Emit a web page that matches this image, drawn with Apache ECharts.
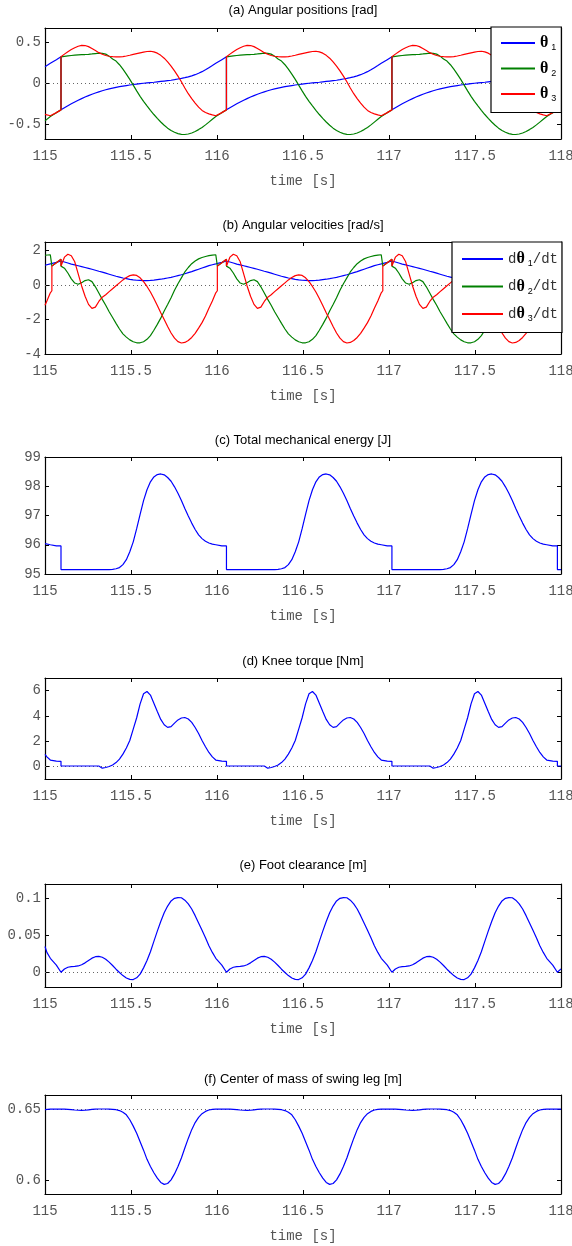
<!DOCTYPE html>
<html><head><meta charset="utf-8">
<script src="https://cdn.jsdelivr.net/npm/echarts@6/dist/echarts.min.js"></script>
<style>html,body{margin:0;padding:0;background:#fff}#c{width:572px;height:1246px}</style>
</head><body><div id="c"></div>
<script>
// ---------------- DATA ----------------
const time = [115.000,115.011,115.031,115.040,115.040,115.066,115.093,
115.093,115.113,115.133,115.153,115.173,115.193,115.213,115.233,115.253,115.273,115.293,115.313,115.333,115.353,115.373,115.393,115.413,115.433,115.453,115.473,115.493,115.513,115.533,115.553,115.573,115.593,115.613,115.633,115.653,115.673,115.693,115.713,115.733,115.753,115.773,115.793,115.813,115.833,115.853,115.873,115.893,115.913,115.933,115.953,115.973,115.993,116.002,116.002,116.028,116.055,
116.055,116.075,116.095,116.115,116.135,116.155,116.175,116.195,116.215,116.235,116.255,116.275,116.295,116.315,116.335,116.355,116.375,116.395,116.415,116.435,116.455,116.475,116.495,116.515,116.535,116.555,116.575,116.595,116.615,116.635,116.655,116.675,116.695,116.715,116.735,116.755,116.775,116.795,116.815,116.835,116.855,116.875,116.895,116.915,116.935,116.955,116.964,116.964,116.990,117.017,
117.017,117.037,117.057,117.077,117.097,117.117,117.137,117.157,117.177,117.197,117.217,117.237,117.257,117.277,117.297,117.317,117.337,117.357,117.377,117.397,117.417,117.437,117.457,117.477,117.497,117.517,117.537,117.557,117.577,117.597,117.617,117.637,117.657,117.677,117.697,117.717,117.737,117.757,117.777,117.797,117.817,117.837,117.857,117.877,117.897,117.917,117.926,117.926,117.952,117.979,
117.979,118.000];

const theta1 = [0.206,0.220,0.247,0.258,0.258,0.292,0.327,
-0.323,-0.297,-0.272,-0.248,-0.226,-0.205,-0.185,-0.166,-0.148,-0.131,-0.116,-0.102,-0.089,-0.077,-0.066,-0.056,-0.047,-0.039,-0.032,-0.025,-0.018,-0.012,-0.007,-0.002,0.003,0.007,0.011,0.015,0.020,0.025,0.030,0.035,0.040,0.047,0.055,0.063,0.072,0.082,0.094,0.108,0.125,0.145,0.168,0.194,0.220,0.247,0.258,0.258,0.292,0.327,
-0.323,-0.297,-0.272,-0.248,-0.226,-0.205,-0.185,-0.166,-0.148,-0.131,-0.116,-0.102,-0.089,-0.077,-0.066,-0.056,-0.047,-0.039,-0.032,-0.025,-0.018,-0.012,-0.007,-0.002,0.003,0.007,0.011,0.015,0.020,0.025,0.030,0.035,0.040,0.047,0.055,0.063,0.072,0.082,0.094,0.108,0.125,0.145,0.168,0.194,0.220,0.247,0.258,0.258,0.292,0.327,
-0.323,-0.297,-0.272,-0.248,-0.226,-0.205,-0.185,-0.166,-0.148,-0.131,-0.116,-0.102,-0.089,-0.077,-0.066,-0.056,-0.047,-0.039,-0.032,-0.025,-0.018,-0.012,-0.007,-0.002,0.003,0.007,0.011,0.015,0.020,0.025,0.030,0.035,0.040,0.047,0.055,0.063,0.072,0.082,0.094,0.108,0.125,0.145,0.168,0.194,0.220,0.247,0.258,0.258,0.292,0.327,
-0.323,-0.296];

const theta2 = [-0.458,-0.439,-0.405,-0.390,-0.390,-0.357,-0.323,
0.327,0.333,0.338,0.343,0.347,0.350,0.353,0.355,0.358,0.362,0.367,0.371,0.370,0.360,0.335,0.300,0.275,0.230,0.175,0.115,0.050,-0.020,-0.090,-0.157,-0.218,-0.274,-0.328,-0.380,-0.428,-0.472,-0.512,-0.547,-0.576,-0.598,-0.614,-0.623,-0.625,-0.619,-0.606,-0.588,-0.565,-0.538,-0.507,-0.473,-0.439,-0.405,-0.390,-0.390,-0.357,-0.323,
0.327,0.333,0.338,0.343,0.347,0.350,0.353,0.355,0.358,0.362,0.367,0.371,0.370,0.360,0.335,0.300,0.275,0.230,0.175,0.115,0.050,-0.020,-0.090,-0.157,-0.218,-0.274,-0.328,-0.380,-0.428,-0.472,-0.512,-0.547,-0.576,-0.598,-0.614,-0.623,-0.625,-0.619,-0.606,-0.588,-0.565,-0.538,-0.507,-0.473,-0.439,-0.405,-0.390,-0.390,-0.357,-0.323,
0.327,0.333,0.338,0.343,0.347,0.350,0.353,0.355,0.358,0.362,0.367,0.371,0.370,0.360,0.335,0.300,0.275,0.230,0.175,0.115,0.050,-0.020,-0.090,-0.157,-0.218,-0.274,-0.328,-0.380,-0.428,-0.472,-0.512,-0.547,-0.576,-0.598,-0.614,-0.623,-0.625,-0.619,-0.606,-0.588,-0.565,-0.538,-0.507,-0.473,-0.439,-0.405,-0.390,-0.390,-0.357,-0.323,
0.327,0.333];

const theta3 = [-0.378,-0.385,-0.395,-0.390,-0.390,-0.357,-0.323,
0.327,0.360,0.390,0.416,0.438,0.456,0.467,0.465,0.452,0.428,0.403,0.378,0.358,0.343,0.334,0.329,0.327,0.327,0.330,0.337,0.346,0.356,0.366,0.375,0.384,0.392,0.395,0.388,0.372,0.345,0.310,0.265,0.214,0.155,0.090,0.022,-0.055,-0.125,-0.185,-0.240,-0.290,-0.330,-0.356,-0.372,-0.385,-0.395,-0.390,-0.390,-0.357,-0.323,
0.327,0.360,0.390,0.416,0.438,0.456,0.467,0.465,0.452,0.428,0.403,0.378,0.358,0.343,0.334,0.329,0.327,0.327,0.330,0.337,0.346,0.356,0.366,0.375,0.384,0.392,0.395,0.388,0.372,0.345,0.310,0.265,0.214,0.155,0.090,0.022,-0.055,-0.125,-0.185,-0.240,-0.290,-0.330,-0.356,-0.372,-0.385,-0.395,-0.390,-0.390,-0.357,-0.323,
0.327,0.360,0.390,0.416,0.438,0.456,0.467,0.465,0.452,0.428,0.403,0.378,0.358,0.343,0.334,0.329,0.327,0.327,0.330,0.337,0.346,0.356,0.366,0.375,0.384,0.392,0.395,0.388,0.372,0.345,0.310,0.265,0.214,0.155,0.090,0.022,-0.055,-0.125,-0.185,-0.240,-0.290,-0.330,-0.356,-0.372,-0.385,-0.395,-0.390,-0.390,-0.357,-0.323,
0.327,0.362];

const dtheta1 = [1.15,1.18,1.23,1.25,1.25,1.32,1.40,
1.40,1.34,1.28,1.22,1.17,1.12,1.07,1.02,0.97,0.92,0.86,0.80,0.75,0.69,0.63,0.57,0.51,0.46,0.41,0.37,0.33,0.30,0.28,0.27,0.26,0.26,0.27,0.29,0.32,0.34,0.37,0.41,0.45,0.50,0.55,0.60,0.66,0.72,0.78,0.85,0.92,0.99,1.06,1.13,1.18,1.23,1.25,1.25,1.32,1.40,
1.40,1.34,1.28,1.22,1.17,1.12,1.07,1.02,0.97,0.92,0.86,0.80,0.75,0.69,0.63,0.57,0.51,0.46,0.41,0.37,0.33,0.30,0.28,0.27,0.26,0.26,0.27,0.29,0.32,0.34,0.37,0.41,0.45,0.50,0.55,0.60,0.66,0.72,0.78,0.85,0.92,0.99,1.06,1.13,1.18,1.23,1.25,1.25,1.32,1.40,
1.40,1.34,1.28,1.22,1.17,1.12,1.07,1.02,0.97,0.92,0.86,0.80,0.75,0.69,0.63,0.57,0.51,0.46,0.41,0.37,0.33,0.30,0.28,0.27,0.26,0.26,0.27,0.29,0.32,0.34,0.37,0.41,0.45,0.50,0.55,0.60,0.66,0.72,0.78,0.85,0.92,0.99,1.06,1.13,1.18,1.23,1.25,1.25,1.32,1.40,
1.40,1.34];

const dtheta2 = [1.73,1.74,1.76,1.77,1.10,1.30,1.50,
1.10,0.98,0.70,0.36,0.12,0.05,0.14,0.26,0.31,0.20,-0.10,-0.46,-0.83,-1.17,-1.55,-1.88,-2.22,-2.55,-2.83,-3.02,-3.18,-3.29,-3.35,-3.35,-3.29,-3.15,-2.93,-2.62,-2.28,-1.92,-1.51,-1.13,-0.73,-0.30,0.08,0.42,0.76,1.02,1.24,1.40,1.52,1.60,1.66,1.71,1.74,1.76,1.77,1.10,1.30,1.50,
1.10,0.98,0.70,0.36,0.12,0.05,0.14,0.26,0.31,0.20,-0.10,-0.46,-0.83,-1.17,-1.55,-1.88,-2.22,-2.55,-2.83,-3.02,-3.18,-3.29,-3.35,-3.35,-3.29,-3.15,-2.93,-2.62,-2.28,-1.92,-1.51,-1.13,-0.73,-0.30,0.08,0.42,0.76,1.02,1.24,1.40,1.52,1.60,1.66,1.71,1.74,1.76,1.77,1.10,1.30,1.50,
1.10,0.98,0.70,0.36,0.12,0.05,0.14,0.26,0.31,0.20,-0.10,-0.46,-0.83,-1.17,-1.55,-1.88,-2.22,-2.55,-2.83,-3.02,-3.18,-3.29,-3.35,-3.35,-3.29,-3.15,-2.93,-2.62,-2.28,-1.92,-1.51,-1.13,-0.73,-0.30,0.08,0.42,0.76,1.02,1.24,1.40,1.52,1.60,1.66,1.71,1.74,1.76,1.77,1.10,1.30,1.50,
1.10,0.97];

const dtheta3 = [-1.17,-0.92,-0.45,-0.33,1.10,1.30,1.50,
1.10,1.62,1.79,1.70,1.35,0.65,-0.05,-0.65,-1.12,-1.35,-1.28,-0.95,-0.70,-0.56,-0.38,-0.21,-0.04,0.13,0.30,0.44,0.55,0.59,0.56,0.42,0.20,-0.08,-0.40,-0.78,-1.18,-1.60,-2.00,-2.40,-2.78,-3.08,-3.28,-3.36,-3.33,-3.22,-3.04,-2.80,-2.50,-2.18,-1.80,-1.35,-0.92,-0.45,-0.33,1.10,1.30,1.50,
1.10,1.62,1.79,1.70,1.35,0.65,-0.05,-0.65,-1.12,-1.35,-1.28,-0.95,-0.70,-0.56,-0.38,-0.21,-0.04,0.13,0.30,0.44,0.55,0.59,0.56,0.42,0.20,-0.08,-0.40,-0.78,-1.18,-1.60,-2.00,-2.40,-2.78,-3.08,-3.28,-3.36,-3.33,-3.22,-3.04,-2.80,-2.50,-2.18,-1.80,-1.35,-0.92,-0.45,-0.33,1.10,1.30,1.50,
1.10,1.62,1.79,1.70,1.35,0.65,-0.05,-0.65,-1.12,-1.35,-1.28,-0.95,-0.70,-0.56,-0.38,-0.21,-0.04,0.13,0.30,0.44,0.55,0.59,0.56,0.42,0.20,-0.08,-0.40,-0.78,-1.18,-1.60,-2.00,-2.40,-2.78,-3.08,-3.28,-3.36,-3.33,-3.22,-3.04,-2.80,-2.50,-2.18,-1.80,-1.35,-0.92,-0.45,-0.33,1.10,1.30,1.50,
1.10,1.64];

const energy = [96.04,96.02,96.00,95.99,95.96,95.96,95.96,
95.15,95.15,95.15,95.15,95.15,95.15,95.15,95.15,95.15,95.15,95.15,95.15,95.15,95.15,95.15,95.16,95.18,95.22,95.32,95.49,95.76,96.10,96.55,97.04,97.51,97.88,98.15,98.32,98.40,98.42,98.39,98.30,98.17,97.98,97.76,97.51,97.24,96.98,96.74,96.52,96.34,96.21,96.12,96.06,96.02,96.00,95.99,95.96,95.96,95.96,
95.15,95.15,95.15,95.15,95.15,95.15,95.15,95.15,95.15,95.15,95.15,95.15,95.15,95.15,95.15,95.16,95.18,95.22,95.32,95.49,95.76,96.10,96.55,97.04,97.51,97.88,98.15,98.32,98.40,98.42,98.39,98.30,98.17,97.98,97.76,97.51,97.24,96.98,96.74,96.52,96.34,96.21,96.12,96.06,96.02,96.00,95.99,95.96,95.96,95.96,
95.15,95.15,95.15,95.15,95.15,95.15,95.15,95.15,95.15,95.15,95.15,95.15,95.15,95.15,95.15,95.16,95.18,95.22,95.32,95.49,95.76,96.10,96.55,97.04,97.51,97.88,98.15,98.32,98.40,98.42,98.39,98.30,98.17,97.98,97.76,97.51,97.24,96.98,96.74,96.52,96.34,96.21,96.12,96.06,96.02,96.00,95.99,95.96,95.96,95.96,
95.15,95.15];

const torque = [0.95,0.75,0.50,0.45,0.45,0.42,0.40,
0.03,0.03,0.03,0.03,0.03,0.03,0.03,0.03,0.03,0.03,0.03,0.03,-0.14,-0.09,-0.01,0.11,0.30,0.58,0.97,1.45,2.05,2.95,3.85,4.95,5.75,5.93,5.65,5.00,4.35,3.72,3.30,3.09,3.15,3.43,3.68,3.83,3.87,3.75,3.48,3.08,2.60,2.05,1.55,1.10,0.75,0.50,0.45,0.45,0.42,0.40,
0.03,0.03,0.03,0.03,0.03,0.03,0.03,0.03,0.03,0.03,0.03,0.03,-0.14,-0.09,-0.01,0.11,0.30,0.58,0.97,1.45,2.05,2.95,3.85,4.95,5.75,5.93,5.65,5.00,4.35,3.72,3.30,3.09,3.15,3.43,3.68,3.83,3.87,3.75,3.48,3.08,2.60,2.05,1.55,1.10,0.75,0.50,0.45,0.45,0.42,0.40,
0.03,0.03,0.03,0.03,0.03,0.03,0.03,0.03,0.03,0.03,0.03,0.03,-0.14,-0.09,-0.01,0.11,0.30,0.58,0.97,1.45,2.05,2.95,3.85,4.95,5.75,5.93,5.65,5.00,4.35,3.72,3.30,3.09,3.15,3.43,3.68,3.83,3.87,3.75,3.48,3.08,2.60,2.05,1.55,1.10,0.75,0.50,0.45,0.45,0.42,0.40,
0.03,0.03];

const clearance = [0.0350,0.0270,0.0190,0.0175,0.0175,0.0098,0.0000,
0.0000,0.0045,0.0068,0.0077,0.0080,0.0086,0.0102,0.0128,0.0160,0.0192,0.0212,0.0217,0.0204,0.0178,0.0138,0.0092,0.0042,-0.0003,-0.0045,-0.0078,-0.0097,-0.0099,-0.0075,-0.0025,0.0060,0.0160,0.0280,0.0420,0.0560,0.0690,0.0810,0.0900,0.0970,0.1005,0.1015,0.1013,0.0980,0.0930,0.0860,0.0770,0.0670,0.0570,0.0470,0.0360,0.0270,0.0190,0.0175,0.0175,0.0098,0.0000,
0.0000,0.0045,0.0068,0.0077,0.0080,0.0086,0.0102,0.0128,0.0160,0.0192,0.0212,0.0217,0.0204,0.0178,0.0138,0.0092,0.0042,-0.0003,-0.0045,-0.0078,-0.0097,-0.0099,-0.0075,-0.0025,0.0060,0.0160,0.0280,0.0420,0.0560,0.0690,0.0810,0.0900,0.0970,0.1005,0.1015,0.1013,0.0980,0.0930,0.0860,0.0770,0.0670,0.0570,0.0470,0.0360,0.0270,0.0190,0.0175,0.0175,0.0098,0.0000,
0.0000,0.0045,0.0068,0.0077,0.0080,0.0086,0.0102,0.0128,0.0160,0.0192,0.0212,0.0217,0.0204,0.0178,0.0138,0.0092,0.0042,-0.0003,-0.0045,-0.0078,-0.0097,-0.0099,-0.0075,-0.0025,0.0060,0.0160,0.0280,0.0420,0.0560,0.0690,0.0810,0.0900,0.0970,0.1005,0.1015,0.1013,0.0980,0.0930,0.0860,0.0770,0.0670,0.0570,0.0470,0.0360,0.0270,0.0190,0.0175,0.0175,0.0098,0.0000,
0.0000,0.0047];

const comHeight = [0.6496,0.6498,0.6500,0.6500,0.6500,0.6500,0.6500,
0.6500,0.6500,0.6499,0.6497,0.6494,0.6492,0.6491,0.6492,0.6495,0.6498,0.6500,0.6501,0.6501,0.6501,0.6500,0.6499,0.6496,0.6490,0.6478,0.6460,0.6425,0.6380,0.6330,0.6270,0.6210,0.6145,0.6095,0.6050,0.6012,0.5982,0.5968,0.5974,0.6000,0.6042,0.6095,0.6155,0.6225,0.6293,0.6355,0.6405,0.6442,0.6468,0.6484,0.6494,0.6498,0.6500,0.6500,0.6500,0.6500,0.6500,
0.6500,0.6500,0.6499,0.6497,0.6494,0.6492,0.6491,0.6492,0.6495,0.6498,0.6500,0.6501,0.6501,0.6501,0.6500,0.6499,0.6496,0.6490,0.6478,0.6460,0.6425,0.6380,0.6330,0.6270,0.6210,0.6145,0.6095,0.6050,0.6012,0.5982,0.5968,0.5974,0.6000,0.6042,0.6095,0.6155,0.6225,0.6293,0.6355,0.6405,0.6442,0.6468,0.6484,0.6494,0.6498,0.6500,0.6500,0.6500,0.6500,0.6500,
0.6500,0.6500,0.6499,0.6497,0.6494,0.6492,0.6491,0.6492,0.6495,0.6498,0.6500,0.6501,0.6501,0.6501,0.6500,0.6499,0.6496,0.6490,0.6478,0.6460,0.6425,0.6380,0.6330,0.6270,0.6210,0.6145,0.6095,0.6050,0.6012,0.5982,0.5968,0.5974,0.6000,0.6042,0.6095,0.6155,0.6225,0.6293,0.6355,0.6405,0.6442,0.6468,0.6484,0.6494,0.6498,0.6500,0.6500,0.6500,0.6500,0.6500,
0.6500,0.6500];

const panelTitles = ['(a) Angular positions [rad]','(b) Angular velocities [rad/s]','(c) Total mechanical energy [J]','(d) Knee torque [Nm]','(e) Foot clearance [m]','(f) Center of mass of swing leg [m]'];
const xName = 'time [s]';
const yTicksA = [-0.5, 0, 0.5];
const yTicksB = [-4, -2, 0, 2];
const yTicksC = [95, 96, 97, 98, 99];
const yTicksD = [0, 2, 4, 6];
const yTicksE = [0, 0.05, 0.1];
const yTicksF = [0.6, 0.65];
const refLines = [0, 0, null, 0, 0, 0.65];
const legendA = ['θ1', 'θ2', 'θ3'];
const legendB = ['dθ1/dt', 'dθ2/dt', 'dθ3/dt'];

// ---------------- LAYOUT ----------------
const panels = [
  {top: 28,   height: 111, titleY: 10,   min: -0.68, max: 0.68, ticks: yTicksA},
  {top: 242,  height: 112, titleY: 225,  min: -4,    max: 2.5,  ticks: yTicksB},
  {top: 457,  height: 117, titleY: 440,  min: 95,    max: 99,   ticks: yTicksC},
  {top: 678,  height: 101, titleY: 661.5,min: -1,    max: 7,    ticks: yTicksD},
  {top: 884,  height: 103, titleY: 865,  min: -0.02, max: 0.12, ticks: yTicksE},
  {top: 1095, height: 99,  titleY: 1079, min: 0.59,  max: 0.66, ticks: yTicksF}
];
const GL = 45, GW = 516;
const monoFont = 'Liberation Mono';
const labelColor = '#555';

const grids = [], xAxes = [], yAxes = [], titles = [];
panels.forEach((p, i) => {
  grids.push({left: GL, width: GW, top: p.top, height: p.height, containLabel: false, outerBoundsMode: 'none'});
  const lineSty = {show: true, onZero: false, lineStyle: {color: '#000', width: 1.2}};
  const tickSty = {show: true, inside: true, length: 4, lineStyle: {color: '#000', width: 1}};
  xAxes.push({type: 'value', gridIndex: i, position: 'bottom', min: 115, max: 118, interval: 0.5,
    axisLine: lineSty, axisTick: tickSty, splitLine: {show: false},
    axisLabel: {show: true, margin: 10, fontFamily: monoFont, fontSize: 14, color: labelColor, showMinLabel: true, showMaxLabel: true, hideOverlap: false},
    name: xName, nameLocation: 'middle', nameGap: 35,
    nameTextStyle: {fontFamily: monoFont, fontSize: 14, color: labelColor}});
  xAxes.push({type: 'value', gridIndex: i, position: 'top', min: 115, max: 118, interval: 0.5,
    axisLine: lineSty, axisTick: tickSty, splitLine: {show: false}, axisLabel: {show: false}});
  yAxes.push({type: 'value', gridIndex: i, position: 'left', min: p.min, max: p.max,
    axisLine: lineSty, axisTick: Object.assign({}, tickSty, {customValues: p.ticks}), splitLine: {show: false},
    axisLabel: {show: true, customValues: p.ticks, margin: 4, fontFamily: monoFont, fontSize: 14, color: labelColor}});
  yAxes.push({type: 'value', gridIndex: i, position: 'right', min: p.min, max: p.max,
    axisLine: lineSty, axisTick: Object.assign({}, tickSty, {customValues: p.ticks}), splitLine: {show: false},
    axisLabel: {show: false}});
  titles.push({text: panelTitles[i], left: GL + GW / 2, top: p.titleY, textAlign: 'center', textVerticalAlign: 'middle', padding: 0,
    textStyle: {fontFamily: 'Liberation Sans', fontSize: 13, fontWeight: 'normal', color: '#000'}});
});

const BLUE = '#0000ff', GREEN = '#008000', RED = '#ff0000';
function mk(name, arr, panel, color, withRef) {
  const s = {
    name: name, type: 'line', xAxisIndex: panel * 2, yAxisIndex: panel * 2,
    data: time.map((t, k) => [t, arr[k]]),
    symbol: 'none', showSymbol: false, clip: true, animation: false,
    lineStyle: {color: color, width: 1.2}, itemStyle: {color: color},
    emphasis: {disabled: true}
  };
  if (withRef && refLines[panel] !== null) {
    s.markLine = {silent: true, symbol: ['none', 'none'], animation: false, label: {show: false}, z: 1,
      lineStyle: {color: '#666', width: 1, type: [1, 3]}, emphasis: {disabled: true},
      data: [{yAxis: refLines[panel]}]};
  }
  return s;
}
const series = [
  mk(legendA[0], theta1, 0, BLUE, true),
  mk(legendA[1], theta2, 0, GREEN, false),
  mk(legendA[2], theta3, 0, RED, false),
  mk(legendB[0], dtheta1, 1, BLUE, true),
  mk(legendB[1], dtheta2, 1, GREEN, false),
  mk(legendB[2], dtheta3, 1, RED, false),
  mk('energy', energy, 2, BLUE, false),
  mk('torque', torque, 3, BLUE, true),
  mk('clearance', clearance, 4, BLUE, true),
  mk('com', comHeight, 5, BLUE, true)
];

const richSty = {
  th: {fontFamily: 'Liberation Serif', fontWeight: 'bold', fontSize: 16, color: '#000'},
  sub: {fontFamily: 'Liberation Sans', fontSize: 9, color: '#000', padding: [10, 0, 0, 3]},
  m: {fontFamily: monoFont, fontSize: 14, color: '#333'}
};
const legends = [
  {data: legendA, orient: 'vertical', left: 491, top: 27, itemWidth: 34, itemHeight: 14, itemGap: 8, z: 10,
   padding: [8, 5, 9, 9], backgroundColor: '#fff', borderColor: '#000', borderWidth: 1.2, borderRadius: 0,
   selectedMode: false, itemStyle: {opacity: 0, borderWidth: 0},
   formatter: n => '{th|θ}{sub|' + n.slice(1) + '}',
   textStyle: {rich: richSty}},
  {data: legendB, orient: 'vertical', left: 452, top: 242, itemWidth: 41, itemHeight: 14, itemGap: 10, z: 10,
   padding: [9, 4, 9, 9], backgroundColor: '#fff', borderColor: '#000', borderWidth: 1.2, borderRadius: 0,
   selectedMode: false, itemStyle: {opacity: 0, borderWidth: 0},
   formatter: n => '{m|d}{th|θ}{sub|' + n.charAt(2) + '}{m|/dt}',
   textStyle: {rich: richSty}}
];

const chart = echarts.init(document.getElementById('c'), null, {renderer: 'canvas'});
chart.setOption({
  animation: false,
  backgroundColor: '#fff',
  title: titles,
  legend: legends,
  grid: grids,
  xAxis: xAxes,
  yAxis: yAxes,
  series: series
});
</script></body></html>
